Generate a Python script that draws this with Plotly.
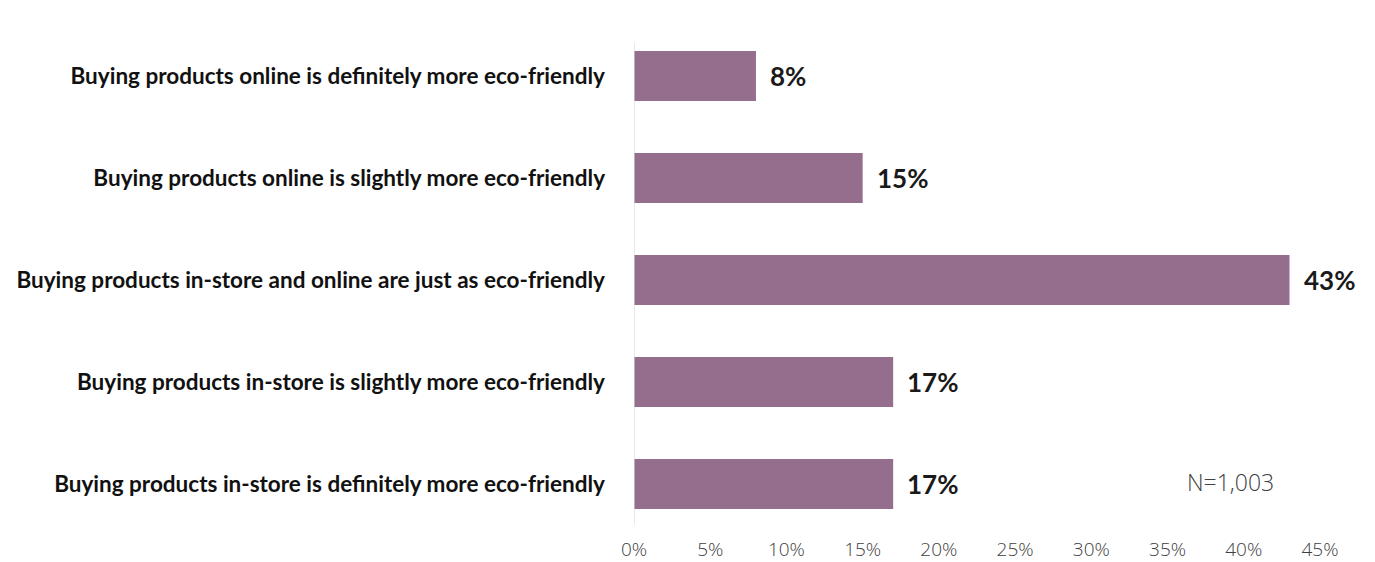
import plotly.graph_objects as go

# Survey answers, top to bottom as displayed
categories = [
    "Buying products online is definitely more eco-friendly",
    "Buying products online is slightly more eco-friendly",
    "Buying products in-store and online are just as eco-friendly",
    "Buying products in-store is slightly more eco-friendly",
    "Buying products in-store is definitely more eco-friendly",
]
shares = [8, 15, 43, 17, 17]
tick_values = [0, 5, 10, 15, 20, 25, 30, 35, 40, 45]
tick_labels = ["0%", "5%", "10%", "15%", "20%", "25%", "30%", "35%", "40%", "45%"]
sample_note = "N=1,003"

BAR_COLOR = "#956d8d"
LABEL_FONT = "Lato"

fig = go.Figure()
fig.add_trace(go.Bar(
    x=shares,
    y=categories,
    orientation="h",
    width=0.49,
    marker=dict(color=BAR_COLOR, line=dict(width=0)),
    hoverinfo="skip",
))

# Value labels to the right of each bar
for cat, val in zip(categories, shares):
    fig.add_annotation(
        x=val, y=cat, xref="x", yref="y",
        text=f"<b>{val}%</b>",
        showarrow=False, xanchor="left", yanchor="middle",
        xshift=12,
        font=dict(family=LABEL_FONT, size=26, color="#1a1a1a"),
    )

# Sample size note
fig.add_annotation(
    x=0.869, y=0.104, xref="paper", yref="paper",
    text=sample_note, showarrow=False,
    xanchor="center", yanchor="middle",
    font=dict(family="Open Sans", size=23, color="#404040", weight=300),
)

# Thin vertical baseline at 0%
fig.add_shape(
    type="line", xref="x", yref="paper",
    x0=0, x1=0, y0=0.02, y1=0.965,
    line=dict(color="#d9d9d9", width=1.2),
)

fig.update_layout(
    width=1375, height=562,
    margin=dict(l=634, r=55, t=25, b=27, autoexpand=False),
    paper_bgcolor="white", plot_bgcolor="white",
    showlegend=False,
    xaxis=dict(
        range=[0, 45],
        tickvals=tick_values, ticktext=tick_labels,
        showgrid=False, zeroline=False, showline=False,
        ticks="", automargin=False, ticklabelstandoff=1,
        tickfont=dict(family="Open Sans", size=19, color="#404040", weight=300),
    ),
    yaxis=dict(
        categoryorder="array", categoryarray=categories,
        autorange="reversed", automargin=False,
        showgrid=False, zeroline=False, showline=False,
        ticks="", ticklabelstandoff=28,
        tickfont=dict(family=LABEL_FONT, size=22.5, color="#111111", weight="bold"),
    ),
)

fig.write_html("out.html")
